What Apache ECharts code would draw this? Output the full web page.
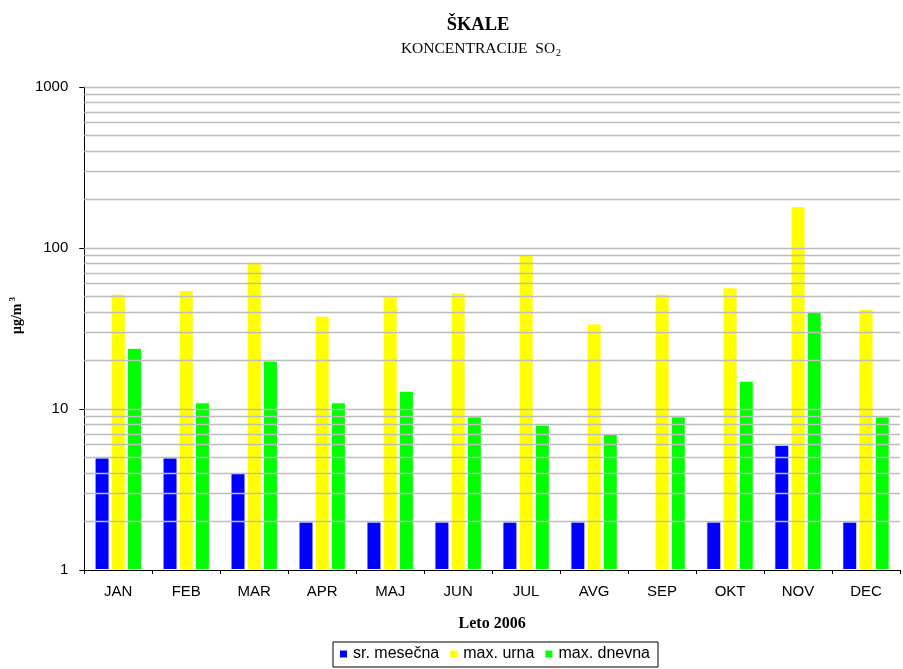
<!DOCTYPE html>
<html><head><meta charset="utf-8">
<script src="https://cdn.jsdelivr.net/npm/echarts@6/dist/echarts.min.js"></script>
<style>html,body{margin:0;padding:0;background:#fff}#c{width:903px;height:669px}</style>
</head><body><div id="c"></div>
<script>
const categories = ['JAN','FEB','MAR','APR','MAJ','JUN','JUL','AVG','SEP','OKT','NOV','DEC'];
const srMesecna = [5, 5, 4, 2, 2, 2, 2, 2, null, 2, 6, 2];
const maxUrna = [52, 55, 82, 38, 51, 53, 91, 34, 52, 57, 182, 42];
const maxDnevna = [24, 11, 20, 11, 13, 9, 8, 7, 9, 15, 40, 9];
const gridValues = [2,3,4,5,6,7,8,9,10,20,30,40,50,60,70,80,90,100,200,300,400,500,600,700,800,900,1000];

const chart = echarts.init(document.getElementById('c'));
const sans = 'Liberation Sans';
const serif = 'Liberation Serif';
const barStyle = (c) => ({color: c, borderColor: '#ffffff', borderWidth: 1});
chart.setOption({
  animation: false,
  backgroundColor: '#ffffff',
  title: [
    {text: 'ŠKALE', left: 473, textAlign: 'center', top: 11,
     textStyle: {fontFamily: serif, fontWeight: 'bold', fontSize: 18.5, color: '#000'}},
    {text: '{a|KONCENTRACIJE  SO}{s|2}', left: 476, textAlign: 'center', top: 35,
     textStyle: {fontWeight: 'normal', rich: {a: {fontFamily: serif, fontWeight: 'normal', fontSize: 15.5, color: '#000'},
                        s: {fontFamily: serif, fontWeight: 'normal', fontSize: 10, color: '#000', padding: [8,0,0,1]}}}}
  ],
  legend: {
    data: ['sr. mesečna', 'max. urna', 'max. dnevna'],
    left: 333, top: 642, orient: 'horizontal',
    borderColor: '#000', borderWidth: 1, padding: [4, 8, 5, 5],
    icon: 'rect', itemWidth: 9, itemHeight: 9, itemGap: 9,
    textStyle: {fontFamily: sans, fontSize: 16, color: '#000', padding: [0,0,0,0]}
  },
  grid: {left: 82, right: 3, top: 87, bottom: 99, containLabel: false},
  xAxis: {
    type: 'category', data: categories,
    name: 'Leto 2006', nameLocation: 'middle', nameGap: 46,
    nameTextStyle: {fontFamily: serif, fontWeight: 'bold', fontSize: 16, color: '#000'},
    axisLine: {lineStyle: {color: '#000', width: 1}},
    axisTick: {show: true, alignWithLabel: false, length: 4, lineStyle: {color: '#000'}},
    axisLabel: {fontFamily: sans, fontSize: 15, color: '#000', margin: 14},
    splitLine: {show: false}
  },
  yAxis: {
    type: 'log', logBase: 10, min: 1, max: 1000,
    name: '{a|μg/m}{s|3}', nameLocation: 'middle', nameGap: 41, nameRotate: 90,
    nameTextStyle: {padding: [0, 0, 0, 26],
                    rich: {a: {fontFamily: serif, fontWeight: 'bold', fontSize: 14, color: '#000'},
                           s: {fontFamily: serif, fontWeight: 'bold', fontSize: 9, color: '#000', padding: [0,0,9,2]}}},
    axisLine: {show: true, lineStyle: {color: '#000', width: 1}},
    axisTick: {show: true, length: 5, inside: false, lineStyle: {color: '#000'}},
    axisLabel: {fontFamily: sans, fontSize: 15, color: '#000', margin: 16,
                formatter: (v) => String(Math.round(v))},
    splitLine: {show: false},
    minorTick: {show: false}
  },
  series: [
    {type: 'line', data: [], z: 1, silent: true,
     markLine: {silent: true, symbol: 'none', label: {show: false}, animation: false,
                lineStyle: {color: '#bdbdbd', width: 1.3, type: 'solid'},
                data: gridValues.map(v => ({yAxis: v}))}},
    {name: 'sr. mesečna', type: 'bar', data: srMesecna, barWidth: 15, barGap: '8%', z: 3, itemStyle: barStyle('#0000ff')},
    {name: 'max. urna', type: 'bar', data: maxUrna, barWidth: 15, barGap: '8%', z: 3, itemStyle: barStyle('#ffff00')},
    {name: 'max. dnevna', type: 'bar', data: maxDnevna, barWidth: 15, barGap: '8%', z: 3, itemStyle: barStyle('#00ff00')}
  ]
});
</script></body></html>
